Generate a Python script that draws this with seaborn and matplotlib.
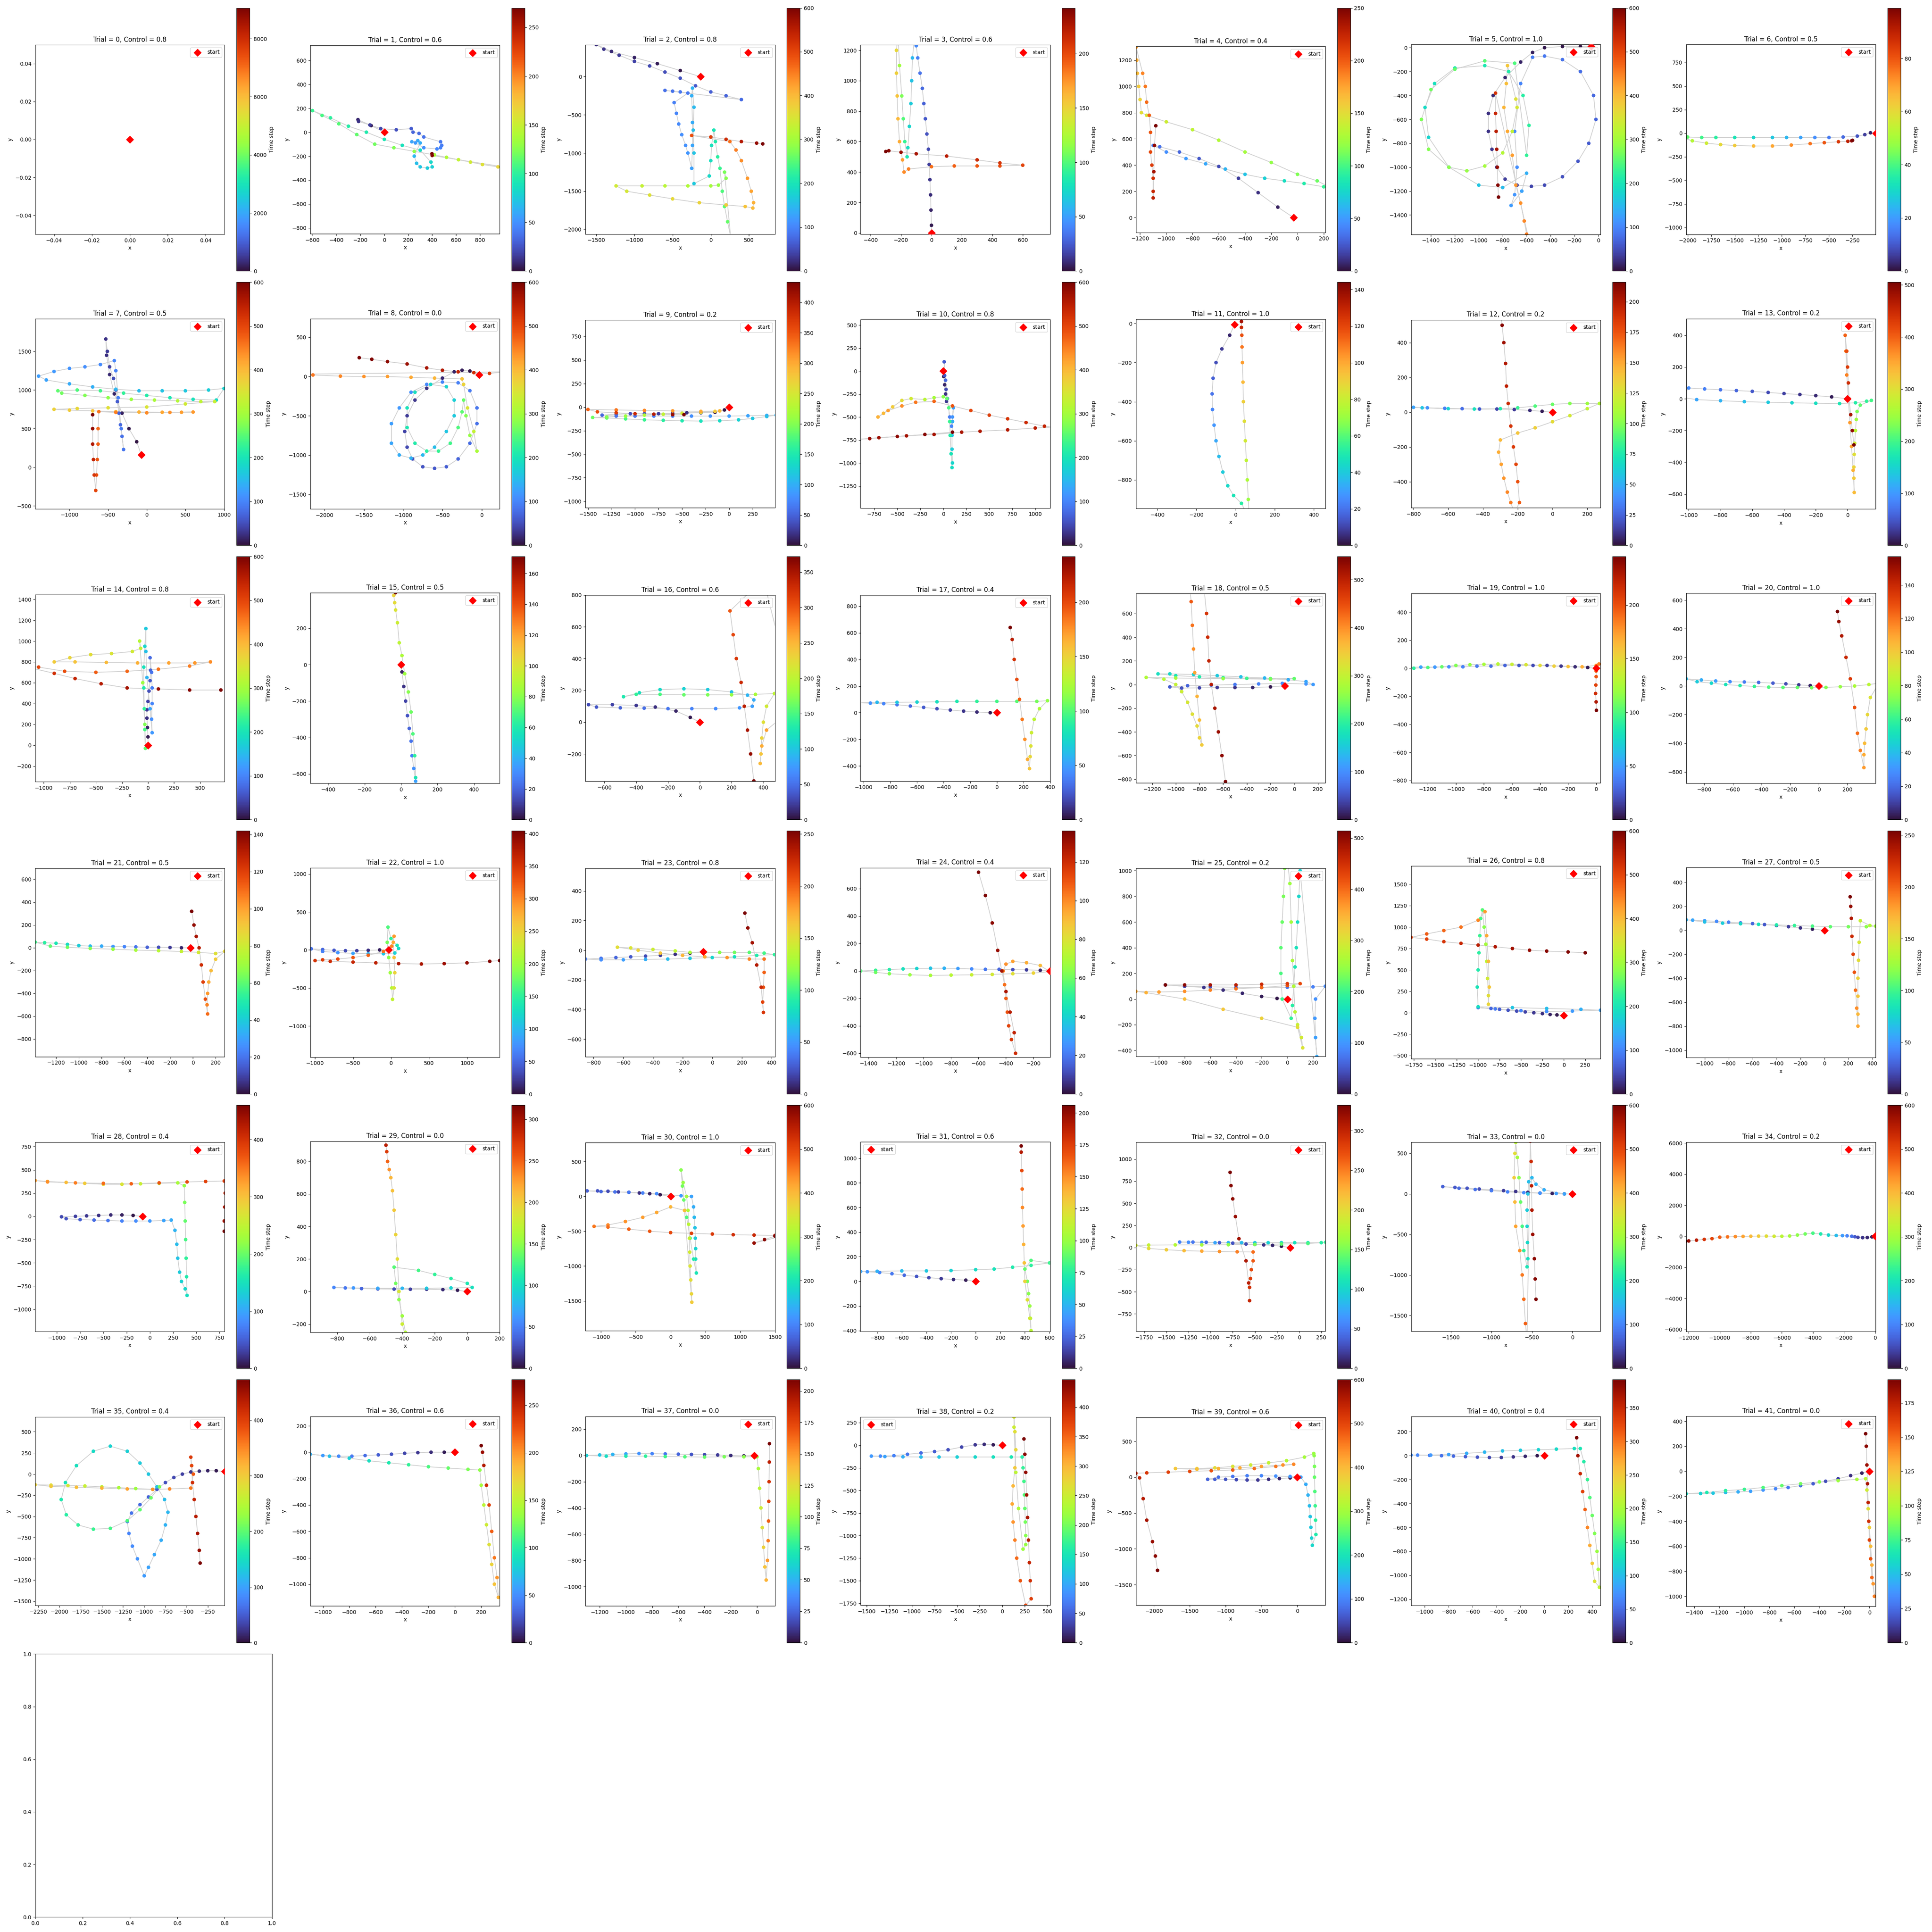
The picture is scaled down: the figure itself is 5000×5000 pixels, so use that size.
import pandas as pd
import matplotlib
matplotlib.use('Agg')
import matplotlib.pyplot as plt
import seaborn as sns
from matplotlib.colors import Normalize
from matplotlib.cm import ScalarMappable

# control level of each trial (read from titles)
controls = [0.8, 0.6, 0.8, 0.6, 0.4, 1.0, 0.5, 0.5, 0.0, 0.2, 0.8, 1.0, 0.2, 0.2,
            0.8, 0.5, 0.6, 0.4, 0.5, 1.0, 1.0, 0.5, 1.0, 0.8, 0.4, 0.2, 0.8, 0.5,
            0.4, 0.0, 1.0, 0.6, 0.0, 0.0, 0.2, 0.4, 0.6, 0.0, 0.2, 0.6, 0.4, 0.0]

# last time step of each trial (top of colorbar)
tmax = [9060, 270, 600, 242, 250, 600, 99, 600, 600, 433, 600, 144, 216, 505,
        600, 171, 372, 242, 548, 245, 157, 142, 404, 253, 136, 514, 600, 254,
        460, 317, 600, 206, 332, 600, 600, 473, 277, 209, 447, 600, 392, 192]

# visible window of each panel
xlims = [(-0.05, 0.05), (-618, 965), (-1640, 840), (-465, 780), (-1232, 212), (-1567, 18),
         (-2015, -5), (-1444, 1008), (-2183, 231), (-1526, 487), (-898, 1162), (-510, 459),
         (-814, 276), (-1016, 177), (-1083, 736), (-498, 542), (-719, 473), (-1023, 400),
         (-1337, 263), (-1320, 31), (-926, 397), (-1383, 279), (-1062, 1432), (-855, 423),
         (-1459, -78), (-1180, 296), (-1783, 428), (-1154, 428), (-1233, 804), (-965, 200),
         (-1223, 1500), (-934, 605), (-1845, 296), (-1992, 346), (-12162, 40), (-2287, -51),
         (-1095, 341), (-1308, 137), (-1568, 530), (-2252, 391), (-1115, 469), (-1465, 50)]
ylims = [(-0.05, 0.05), (-849, 727), (-2060, 415), (-7, 1235), (-113, 1304), (-1562, 26),
         (-1073, 941), (-537, 1921), (-1687, 737), (-1069, 927), (-1489, 558), (-946, 22),
         (-550, 531), (-694, 505), (-350, 1446), (-652, 394), (-372, 800), (-514, 883),
         (-830, 769), (-818, 534), (-679, 649), (-955, 698), (-1410, 1080), (-718, 552),
         (-629, 753), (-448, 1018), (-538, 1712), (-1061, 524), (-1238, 798), (-251, 924),
         (-1932, 772), (-409, 1133), (-946, 1189), (-1695, 636), (-6138, 6069), (-1550, 676),
         (-1165, 272), (-1147, 298), (-1772, 313), (-1783, 835), (-1253, 326), (-1079, 441)]

# trajectories: (x, y, time step)
p0 = [(0, 0, 0), (0, 0, 3000), (0, 0, 6000), (0, 0, 9060)]
p1 = [(0, 0, 0), (-110, 55, 4), (-220, 105, 8), (-215, 90, 12), (-120, 60, 16), (-30, 30, 20),
      (100, 20, 24), (225, 30, 28), (240, 0, 31), (290, -10, 34), (330, -40, 37), (470, -80, 40),
      (480, -110, 42), (470, -130, 44), (440, -140, 46), (330, -130, 50), (260, -90, 54),
      (230, -80, 57), (280, -70, 60), (300, -90, 62), (250, -200, 66), (270, -260, 69),
      (300, -290, 72), (360, -300, 75), (400, -290, 78), (390, -250, 82), (300, -150, 85),
      (150, -110, 88), (0, -60, 91), (-150, 0, 94), (-300, 50, 97), (-450, 120, 100),
      (-600, 180, 104), (-520, 140, 108), (-380, 70, 112), (-230, -20, 116), (-80, -100, 120),
      (80, -130, 124), (250, -160, 128), (420, -190, 135), (520, -210, 140), (620, -230, 147),
      (720, -250, 153), (820, -270, 160), (950, -290, 166), (1100, -310, 190), (1250, -330, 230),
      (400, -195, 265), (398, -180, 270)]
p2 = [(-136, 0, 0), (-400, 80, 5), (-700, 170, 10), (-1000, 250, 15), (-1300, 330, 20),
      (-1500, 420, 25), (-1400, 360, 30), (-1200, 280, 35), (-1000, 200, 40), (-800, 140, 45),
      (-600, 60, 50), (-400, -20, 55), (-200, -120, 60), (0, -200, 65), (200, -250, 70),
      (400, -300, 75), (-600, -180, 80), (-500, -190, 83), (-400, -200, 86), (-300, -215, 89),
      (-480, -340, 95), (-450, -480, 100), (-420, -620, 104), (-380, -760, 108), (-330, -900, 112),
      (-300, -1000, 116), (-250, -1200, 125), (-240, -900, 130), (-240, -600, 135),
      (-250, -250, 140), (-240, -150, 143), (-220, -400, 148), (-230, -700, 153),
      (-220, -1000, 158), (-220, -1400, 165), (-20, -1300, 185), (0, -1100, 190), (10, -900, 195),
      (40, -700, 200), (60, -850, 210), (90, -1050, 220), (120, -1200, 230), (150, -1500, 245),
      (180, -1700, 252), (220, -1900, 258), (260, -2100, 262), (180, -1250, 270),
      (200, -1330, 280), (100, -1420, 290), (0, -1430, 300), (-300, -1430, 310),
      (-600, -1430, 320), (-900, -1430, 330), (-1240, -1430, 340), (-1100, -1500, 345),
      (-800, -1550, 355), (-500, -1600, 365), (-150, -1650, 372), (200, -1680, 380),
      (450, -1700, 390), (550, -1720, 400), (560, -1650, 410), (530, -1500, 420),
      (480, -1330, 430), (400, -1100, 440), (330, -960, 450), (250, -850, 460), (-250, -770, 490),
      (0, -790, 510), (200, -820, 530), (400, -850, 555), (600, -870, 580), (680, -880, 600)]
p3 = [(0, 0, 0), (0, 50, 3), (-3, 150, 6), (-6, 250, 9), (-10, 350, 12), (-15, 450, 15),
      (-20, 550, 18), (-30, 650, 21), (-40, 750, 24), (-50, 850, 27), (-60, 950, 30),
      (-75, 1050, 34), (-90, 1150, 38), (-100, 1230, 42), (-110, 1300, 48), (-125, 1150, 60),
      (-130, 1000, 64), (-135, 850, 68), (-145, 700, 72), (-155, 560, 77), (-160, 500, 82),
      (-175, 600, 92), (-185, 750, 100), (-195, 900, 110), (-210, 1100, 120), (-220, 1300, 135),
      (-230, 1200, 148), (-230, 1050, 152), (-225, 900, 157), (-220, 750, 162), (-210, 600, 167),
      (-190, 480, 172), (-180, 400, 178), (-150, 420, 182), (0, 435, 187), (150, 440, 191),
      (300, 440, 195), (450, 440, 199), (600, 445, 203), (450, 460, 210), (300, 480, 216),
      (100, 505, 222), (-100, 520, 228), (-200, 530, 233), (-280, 540, 238), (-300, 535, 242)]
p4 = [(-30, 0, 0), (-150, 80, 5), (-300, 190, 10), (-450, 300, 15), (-600, 390, 20),
      (-750, 450, 25), (-900, 500, 30), (-1050, 540, 35), (-1100, 550, 40), (-1000, 500, 45),
      (-850, 450, 50), (-700, 410, 55), (-550, 370, 60), (-400, 330, 66), (-250, 300, 72),
      (-100, 280, 80), (50, 260, 88), (200, 235, 95), (260, 225, 102), (150, 280, 110),
      (0, 330, 115), (-200, 420, 120), (-400, 500, 125), (-600, 590, 130), (-800, 670, 135),
      (-1000, 730, 140), (-1150, 780, 146), (-1190, 800, 150), (-1200, 900, 155),
      (-1210, 1000, 160), (-1220, 1100, 166), (-1225, 1200, 172), (-1230, 1300, 178),
      (-1180, 1100, 186), (-1160, 1000, 190), (-1150, 880, 194), (-1130, 780, 198),
      (-1120, 650, 203), (-1120, 500, 208), (-1110, 400, 213), (-1100, 300, 218),
      (-1100, 200, 223), (-1100, 150, 228), (-1095, 350, 236), (-1090, 550, 243), (-1080, 700, 250)]
p5 = [(-60, 10, 0), (-150, 10, 3), (-300, 10, 6), (-450, 0, 9), (-550, -40, 12), (-650, -120, 15),
      (-780, -250, 18), (-880, -400, 21), (-920, -550, 24), (-920, -700, 27), (-890, -850, 30),
      (-850, -1000, 33), (-780, -1100, 36), (-680, -1150, 40), (-560, -1160, 44),
      (-450, -1150, 48), (-300, -1080, 53), (-170, -950, 58), (-80, -800, 63), (-20, -600, 68),
      (-40, -400, 73), (-150, -200, 78), (-300, -100, 83), (-450, -70, 88), (-550, -80, 93),
      (-650, -300, 100), (-700, -700, 105), (-680, -1000, 110), (-700, -1230, 115),
      (-730, -1320, 120), (-640, -1200, 128), (-600, -1050, 140), (-800, -1170, 150),
      (-1000, -1150, 160), (-1250, -1000, 170), (-1420, -750, 180), (-1450, -500, 187),
      (-1370, -300, 194), (-1200, -170, 200), (-950, -150, 206), (-750, -200, 212),
      (-630, -400, 217), (-580, -650, 222), (-600, -900, 227), (-700, -130, 245),
      (-950, -110, 252), (-1200, -180, 260), (-1400, -350, 266), (-1480, -600, 272),
      (-1420, -850, 278), (-1250, -1000, 284), (-1100, -1030, 290), (-950, -990, 300),
      (-800, -880, 315), (-720, -700, 330), (-680, -500, 345), (-690, -430, 355),
      (-760, -150, 385), (-770, -300, 395), (-790, -500, 405), (-760, -700, 415),
      (-720, -900, 425), (-690, -1150, 432), (-650, -1300, 438), (-620, -1450, 445),
      (-600, -1560, 450), (-560, -1700, 460), (-860, -380, 520), (-860, -550, 535),
      (-855, -700, 550), (-850, -850, 565), (-845, -1000, 580), (-840, -1150, 592),
      (-835, -1250, 600)]
p6 = [(0, 0, 0), (-60, 5, 3), (-120, -15, 6), (-200, -30, 9), (-350, -40, 12), (-500, -45, 15),
      (-650, -45, 18), (-800, -45, 21), (-950, -45, 24), (-1100, -45, 27), (-1300, -45, 30),
      (-1500, -45, 33), (-1700, -45, 36), (-1850, -45, 39), (-2000, -40, 42), (-2050, -50, 46),
      (-1950, -80, 52), (-1800, -105, 56), (-1650, -120, 60), (-1500, -130, 63),
      (-1300, -135, 66), (-1100, -135, 69), (-900, -125, 72), (-700, -110, 76), (-550, -100, 80),
      (-400, -90, 85), (-300, -85, 90), (-260, -80, 95), (-250, -75, 99)]
p7 = [(-70, 160, 0), (-130, 330, 4), (-230, 500, 8), (-320, 700, 12), (-420, 950, 16),
      (-480, 1200, 20), (-520, 1450, 24), (-530, 1660, 28), (-510, 1500, 35), (-480, 1300, 42),
      (-430, 1150, 50), (-400, 1000, 56), (-380, 850, 62), (-360, 700, 68), (-340, 550, 74),
      (-320, 400, 80), (-300, 230, 86), (-330, 500, 90), (-370, 900, 94), (-400, 1250, 98),
      (-420, 1380, 102), (-600, 1330, 106), (-800, 1300, 110), (-1000, 1280, 114),
      (-1200, 1240, 118), (-1400, 1180, 122), (-1300, 1130, 128), (-1000, 1080, 134),
      (-700, 1040, 140), (-400, 1010, 146), (-100, 990, 152), (200, 990, 158), (500, 990, 164),
      (800, 1000, 170), (1000, 1020, 176), (900, 870, 185), (600, 880, 195), (300, 900, 205),
      (0, 930, 215), (-300, 960, 225), (-600, 990, 235), (-900, 1000, 245), (-1150, 990, 255),
      (-1100, 960, 265), (-800, 930, 275), (-500, 900, 285), (-200, 880, 295), (100, 870, 305),
      (400, 860, 315), (700, 850, 325), (880, 850, 335), (500, 820, 342), (0, 780, 350),
      (-500, 770, 358), (-900, 760, 366), (-1200, 750, 374), (-1000, 740, 382), (-700, 730, 392),
      (-400, 720, 402), (-100, 715, 410), (200, 712, 418), (450, 712, 425), (600, 715, 430),
      (300, 710, 436), (0, 705, 442), (-400, 710, 450), (-620, 720, 458), (-630, 500, 468),
      (-630, 300, 476), (-640, 100, 484), (-650, -100, 492), (-660, -300, 500),
      (-680, -100, 520), (-690, 100, 540), (-700, 300, 560), (-700, 500, 580), (-700, 680, 600)]
p8 = [(-30, 20, 0), (-150, 70, 5), (-250, 80, 10), (-350, 60, 15), (-500, -20, 20),
      (-700, -150, 25), (-850, -300, 30), (-950, -500, 35), (-980, -700, 40), (-950, -900, 45),
      (-880, -1050, 50), (-750, -1150, 55), (-600, -1170, 60), (-450, -1150, 65),
      (-300, -1050, 70), (-150, -850, 75), (-60, -600, 80), (-60, -400, 85), (-150, -180, 90),
      (-300, -80, 95), (-500, -70, 100), (-700, -100, 105), (-900, -200, 112), (-1050, -400, 118),
      (-1150, -600, 124), (-1150, -850, 130), (-1050, -1000, 136), (-900, -1040, 142),
      (-750, -1000, 148), (-600, -900, 154), (-450, -700, 160), (-350, -500, 166),
      (-350, -300, 172), (-450, -130, 178), (-650, -100, 185), (-850, -200, 192),
      (-950, -400, 198), (-950, -650, 204), (-850, -850, 212), (-700, -950, 220),
      (-550, -950, 228), (-400, -850, 236), (-300, -650, 244), (-250, -450, 252),
      (-230, -300, 260), (-200, -500, 275), (-150, -750, 290), (-60, -950, 305),
      (-100, -700, 330), (-180, -400, 350), (-230, -100, 372), (-250, -30, 390),
      (-600, -20, 405), (-900, -10, 415), (-1200, 0, 425), (-1500, 0, 435), (-1800, 5, 445),
      (-2150, 20, 458), (-2300, 30, 470), (300, 60, 500), (100, 40, 510), (-100, 50, 525),
      (-300, 60, 540), (-500, 80, 555), (-700, 110, 565), (-950, 160, 575), (-1200, 190, 585),
      (-1400, 220, 593), (-1560, 240, 600)]
p9 = [(0, 0, 0), (-50, -30, 4), (-150, -55, 8), (-300, -60, 13), (-450, -60, 18), (-600, -65, 23),
      (-750, -70, 28), (-900, -70, 33), (-1050, -70, 38), (-1200, -75, 45), (-1350, -85, 52),
      (-1200, -95, 58), (-1000, -95, 63), (-800, -95, 68), (-600, -95, 73), (-400, -95, 78),
      (-200, -95, 83), (0, -95, 88), (200, -92, 93), (400, -88, 98), (500, -85, 103),
      (400, -100, 110), (250, -120, 118), (100, -135, 126), (-100, -145, 134), (-300, -148, 142),
      (-500, -145, 150), (-700, -140, 158), (-900, -135, 166), (-1100, -125, 174),
      (-1300, -115, 182), (-1450, -110, 190), (-1300, -105, 200), (-1100, -95, 212),
      (-900, -85, 224), (-700, -75, 236), (-500, -65, 248), (-300, -55, 262), (-150, -45, 276),
      (-100, -40, 290), (-300, -45, 300), (-600, -40, 310), (-900, -35, 320), (-1200, -30, 330),
      (-1500, -25, 340), (-1400, -50, 355), (-1200, -60, 370), (-1000, -70, 385),
      (-800, -75, 400), (-600, -80, 415), (-480, -80, 433)]
p10 = [(0, 0, 0), (5, -60, 8), (15, -150, 16), (25, -250, 24), (35, -330, 32), (30, -200, 45),
       (15, -50, 55), (10, 100, 62), (25, -100, 72), (45, -300, 82), (70, -500, 92),
       (90, -600, 102), (100, -500, 115), (110, -400, 125), (100, -550, 140), (95, -700, 155),
       (95, -850, 170), (100, -1000, 180), (95, -1050, 188), (85, -900, 200), (75, -700, 215),
       (70, -550, 230), (60, -400, 245), (40, -300, 260), (0, -280, 280), (-100, -290, 300),
       (-200, -310, 320), (-350, -300, 340), (-450, -320, 360), (-550, -390, 380),
       (-650, -460, 400), (-710, -500, 410), (-600, -430, 425), (-450, -380, 440),
       (-300, -340, 455), (-100, -330, 470), (100, -380, 485), (300, -430, 500), (500, -480, 510),
       (700, -520, 520), (900, -560, 530), (1100, -600, 540), (1200, -610, 545),
       (1000, -620, 550), (700, -640, 555), (400, -655, 560), (200, -665, 563),
       (-100, -690, 566), (-400, -705, 569), (-700, -725, 572), (-950, -745, 575),
       (-800, -735, 580), (-500, -712, 585), (-200, -690, 590), (100, -665, 600)]
p11 = [(-5, -5, 0), (-30, -60, 4), (-70, -130, 8), (-100, -200, 12), (-115, -280, 16),
       (-120, -360, 20), (-118, -440, 24), (-110, -520, 28), (-100, -600, 32), (-85, -680, 36),
       (-65, -760, 40), (-40, -830, 44), (-10, -880, 48), (30, -920, 52), (50, -960, 56),
       (70, -1000, 62), (65, -900, 70), (60, -800, 74), (55, -700, 78), (50, -600, 82),
       (45, -500, 86), (40, -400, 90), (38, -300, 96), (35, -200, 102), (33, -120, 110),
       (32, -60, 118), (30, -20, 128), (30, 10, 136), (30, 30, 144)]
p12 = [(0, 0, 0), (-60, 5, 4), (-130, 10, 8), (-220, 15, 12), (-320, 18, 16), (-420, 18, 22),
       (-520, 20, 28), (-620, 22, 34), (-720, 25, 40), (-800, 28, 46), (-850, 30, 52),
       (-750, 25, 58), (-600, 20, 64), (-450, 18, 70), (-300, 20, 76), (-200, 25, 82),
       (-100, 35, 88), (0, 45, 94), (100, 50, 100), (200, 50, 106), (270, 50, 112),
       (200, 20, 118), (100, -20, 124), (0, -55, 130), (-100, -90, 135), (-200, -120, 140),
       (-300, -160, 144), (-310, -230, 148), (-295, -300, 152), (-280, -380, 156),
       (-260, -460, 160), (-240, -520, 164), (-220, -580, 168), (-190, -520, 172),
       (-200, -400, 176), (-210, -300, 180), (-225, -200, 184), (-240, -80, 188),
       (-255, 50, 192), (-265, 150, 196), (-270, 280, 200), (-280, 400, 206), (-290, 500, 212),
       (-295, 540, 216)]
p13 = [(0, 0, 0), (-100, 12, 8), (-200, 20, 16), (-300, 27, 24), (-400, 33, 32), (-500, 40, 40),
       (-600, 47, 50), (-700, 52, 60), (-800, 57, 70), (-900, 62, 80), (-1000, 68, 90),
       (-1050, 10, 100), (-950, -5, 110), (-800, -12, 120), (-650, -18, 130), (-500, -22, 140),
       (-350, -25, 150), (-200, -28, 160), (-50, -30, 170), (50, -25, 180), (120, -15, 190),
       (150, -10, 200), (80, -40, 215), (60, -80, 230), (55, -130, 250), (50, -200, 270),
       (45, -280, 285), (42, -350, 300), (40, -430, 312), (40, -500, 322), (42, -590, 335),
       (35, -450, 345), (25, -300, 352), (15, -150, 360), (5, 0, 368), (-5, 150, 378),
       (-10, 300, 390), (-15, 400, 400), (-5, 300, 415), (0, 200, 430), (5, 100, 445),
       (10, 0, 460), (20, -100, 475), (30, -200, 490), (40, -290, 505)]
p14 = [(0, 0, 0), (0, 80, 8), (-5, 170, 16), (-10, 260, 24), (-10, 340, 32), (0, 420, 40),
       (10, 520, 50), (20, 620, 60), (25, 720, 68), (20, 840, 76), (35, 700, 84), (40, 550, 92),
       (40, 400, 100), (35, 250, 110), (40, 120, 118), (20, 350, 130), (-10, 650, 145),
       (-20, 900, 155), (-20, 1120, 165), (-30, 950, 180), (-40, 750, 195), (-40, 550, 210),
       (-35, 350, 225), (-30, 150, 240), (-25, -30, 255), (-30, 200, 275), (-50, 600, 295),
       (-80, 1000, 315), (-70, 930, 330), (-150, 900, 340), (-350, 880, 350), (-550, 870, 360),
       (-750, 840, 370), (-900, 800, 380), (-700, 800, 390), (-400, 795, 400), (-100, 790, 410),
       (200, 790, 420), (450, 790, 430), (600, 800, 440), (400, 760, 450), (100, 730, 460),
       (-200, 710, 470), (-500, 700, 480), (-800, 710, 490), (-1050, 750, 500),
       (-1200, 760, 510), (-900, 690, 525), (-700, 640, 540), (-450, 590, 555), (-200, 550, 568),
       (100, 540, 580), (400, 530, 590), (700, 530, 600)]
p15 = [(0, 0, 0), (5, -40, 4), (15, -120, 8), (25, -200, 12), (35, -280, 16), (45, -350, 20),
       (55, -420, 24), (60, -500, 28), (70, -570, 32), (80, -640, 36), (85, -700, 45),
       (80, -620, 58), (75, -500, 64), (65, -380, 70), (55, -260, 75), (40, -150, 80),
       (20, -50, 84), (5, 50, 88), (-10, 120, 92), (-20, 230, 96), (-30, 300, 100),
       (-35, 340, 103), (-40, 380, 106), (-45, 450, 120), (-40, 500, 150), (-30, 395, 171)]
p16 = [(0, 0, 0), (-60, 30, 5), (-150, 70, 10), (-280, 95, 15), (-400, 105, 20), (-550, 110, 25),
       (-700, 110, 30), (-650, 95, 36), (-500, 90, 42), (-350, 88, 48), (-200, 85, 54),
       (-50, 85, 60), (100, 85, 66), (250, 90, 72), (330, 100, 78), (340, 140, 84),
       (300, 170, 90), (200, 190, 96), (50, 205, 102), (-100, 210, 108), (-250, 205, 114),
       (-380, 185, 120), (-480, 160, 128), (-400, 175, 140), (-250, 175, 150), (-100, 172, 160),
       (50, 172, 170), (200, 172, 180), (350, 175, 190), (470, 180, 200), (420, 100, 212),
       (400, 0, 222), (390, -100, 230), (385, -200, 240), (380, -260, 248), (390, -150, 256),
       (420, -50, 262), (600, 100, 270), (400, 900, 285), (190, 700, 300), (210, 550, 310),
       (230, 400, 320), (260, 250, 330), (280, 100, 340), (300, -50, 350), (320, -200, 360),
       (340, -370, 372)]
p17 = [(0, 0, 0), (-50, 0, 4), (-150, 5, 8), (-250, 12, 12), (-350, 20, 16), (-450, 30, 20),
       (-550, 40, 25), (-650, 50, 30), (-750, 60, 35), (-850, 68, 40), (-950, 72, 45),
       (-1050, 75, 50), (-900, 78, 60), (-750, 78, 66), (-600, 80, 72), (-450, 82, 78),
       (-300, 85, 84), (-150, 85, 90), (0, 85, 96), (150, 85, 102), (300, 85, 108),
       (380, 90, 116), (320, 30, 124), (280, -50, 130), (260, -150, 136), (255, -250, 142),
       (250, -330, 148), (245, -420, 156), (230, -350, 166), (210, -200, 176), (190, -50, 184),
       (170, 100, 192), (150, 250, 200), (130, 400, 210), (115, 550, 222), (100, 640, 242)]
p18 = [(-80, -10, 0), (-200, -20, 8), (-350, -25, 16), (-500, -25, 24), (-650, -25, 32),
       (-800, -28, 40), (-950, -30, 48), (-1050, -20, 56), (-900, -10, 64), (-700, -5, 72),
       (-500, 0, 80), (-300, 5, 88), (-100, 10, 96), (100, 5, 104), (160, 0, 110),
       (100, 25, 118), (-50, 40, 126), (-250, 55, 134), (-450, 65, 142), (-650, 75, 150),
       (-850, 85, 158), (-1050, 90, 166), (-1150, 90, 174), (-1000, 75, 184), (-800, 65, 194),
       (-600, 58, 204), (-400, 52, 214), (-200, 50, 224), (0, 50, 234), (-200, 45, 250),
       (-600, 50, 262), (-1000, 55, 274), (-1250, 60, 284), (-1100, 45, 292), (-1000, 0, 300),
       (-950, -60, 308), (-900, -150, 316), (-860, -250, 324), (-820, -350, 332),
       (-800, -450, 340), (-780, -510, 348), (-800, -300, 360), (-820, -100, 372),
       (-840, 100, 385), (-850, 300, 400), (-860, 500, 420), (-870, 700, 440), (-880, 800, 450),
       (-760, 800, 465), (-740, 600, 475), (-730, 400, 485), (-720, 200, 495), (-700, 0, 505),
       (-670, -200, 515), (-640, -400, 525), (-610, -600, 535), (-580, -820, 548)]
p19 = [(0, 0, 0), (-60, 5, 4), (-150, 10, 8), (-250, 15, 12), (-350, 20, 16), (-450, 20, 20),
       (-550, 20, 24), (-650, 20, 28), (-750, 15, 32), (-850, 15, 36), (-950, 10, 40),
       (-1050, 10, 44), (-1150, 8, 48), (-1250, 8, 52), (-1350, 8, 58), (-1400, 5, 70),
       (-1300, 0, 90), (-1200, 5, 100), (-1100, 10, 106), (-1000, 20, 112), (-900, 25, 118),
       (-800, 28, 124), (-700, 30, 130), (-600, 28, 136), (-500, 25, 142), (-400, 20, 148),
       (-300, 15, 154), (-200, 12, 160), (-100, 10, 168), (0, 20, 176), (20, 30, 184),
       (0, -20, 192), (0, -60, 198), (-2, -120, 206), (-4, -180, 216), (0, -240, 228),
       (2, -300, 245)]
p20 = [(0, 0, 0), (-60, 3, 4), (-140, 8, 8), (-230, 15, 12), (-320, 20, 16), (-420, 25, 20),
       (-520, 28, 24), (-620, 30, 28), (-720, 35, 32), (-820, 42, 36), (-926, 50, 40),
       (-850, 30, 44), (-750, 20, 48), (-650, 10, 52), (-550, 3, 56), (-450, -3, 60),
       (-350, -8, 64), (-250, -10, 66), (-150, -10, 68), (-50, -12, 70), (50, -10, 72),
       (150, -5, 76), (250, 0, 80), (350, 10, 84), (420, 20, 88), (360, -80, 92),
       (340, -200, 96), (330, -300, 100), (320, -400, 104), (315, -480, 108), (315, -570, 112),
       (290, -450, 118), (270, -330, 122), (250, -150, 128), (220, 50, 134), (190, 200, 140),
       (160, 350, 146), (140, 450, 152), (130, 520, 157)]
p21 = [(-20, 0, 0), (-100, 0, 4), (-200, 3, 8), (-300, 5, 12), (-400, 5, 16), (-500, 8, 20),
       (-600, 10, 24), (-700, 12, 28), (-800, 15, 32), (-900, 15, 36), (-1000, 20, 40),
       (-1100, 30, 44), (-1200, 40, 48), (-1300, 45, 52), (-1383, 50, 56), (-1250, 15, 60),
       (-1100, 5, 63), (-900, -5, 66), (-700, -12, 69), (-500, -20, 72), (-300, -25, 75),
       (-100, -32, 78), (50, -40, 81), (200, -50, 84), (280, -30, 87), (200, -100, 90),
       (160, -200, 94), (140, -300, 98), (130, -400, 102), (125, -500, 106), (130, -580, 110),
       (110, -450, 116), (90, -300, 120), (75, -150, 125), (55, 0, 130), (30, 100, 134),
       (10, 200, 138), (-10, 320, 142)]
p22 = [(-30, 0, 0), (-150, 0, 8), (-300, -5, 16), (-450, -10, 24), (-600, -10, 32),
       (-750, -5, 40), (-900, 5, 48), (-1050, 15, 56), (-900, -20, 66), (-700, -35, 76),
       (-500, -45, 86), (-300, -50, 96), (-100, -50, 106), (50, -40, 116), (100, 20, 126),
       (80, 60, 136), (0, 150, 150), (-40, 300, 165), (-50, 100, 180), (-30, -100, 190),
       (-10, -300, 200), (10, -500, 210), (20, -650, 220), (40, -500, 235), (50, -300, 250),
       (40, -100, 265), (30, 100, 280), (40, 180, 290), (10, 50, 300), (-100, -20, 310),
       (-300, -70, 318), (-500, -100, 326), (-700, -120, 334), (-900, -130, 342),
       (-1000, -140, 350), (-800, -150, 356), (-500, -160, 362), (-200, -170, 368),
       (100, -180, 374), (400, -185, 380), (700, -180, 386), (1000, -170, 392),
       (1300, -150, 398), (1430, -140, 404)]
p23 = [(-60, -10, 0), (-150, -20, 5), (-250, -28, 10), (-350, -35, 15), (-450, -40, 20),
       (-550, -45, 25), (-650, -50, 30), (-750, -55, 35), (-855, -60, 40), (-750, -65, 46),
       (-600, -65, 52), (-450, -62, 58), (-300, -60, 64), (-150, -55, 70), (0, -50, 76),
       (150, -45, 82), (300, -35, 88), (420, -30, 94), (350, -20, 100), (250, -15, 106),
       (150, -15, 112), (50, -15, 118), (-50, -15, 124), (-150, -15, 130), (-250, -5, 136),
       (-400, 5, 142), (-550, 15, 148), (-640, 20, 152), (-500, 0, 158), (-350, -20, 164),
       (-200, -35, 170), (-50, -45, 176), (100, -50, 182), (250, -60, 188), (350, -60, 194),
       (350, -150, 200), (345, -250, 206), (340, -350, 212), (345, -420, 218), (330, -250, 226),
       (300, -100, 234), (270, 50, 240), (240, 150, 246), (220, 250, 253)]
p24 = [(-80, 0, 0), (-150, 5, 4), (-250, 8, 8), (-350, 10, 12), (-450, 12, 16), (-550, 12, 20),
       (-650, 15, 24), (-750, 18, 28), (-850, 20, 32), (-950, 20, 36), (-1050, 18, 40),
       (-1150, 15, 44), (-1250, 10, 48), (-1350, 5, 52), (-1459, 0, 56), (-1350, -10, 60),
       (-1250, -20, 63), (-1100, -28, 66), (-950, -32, 69), (-800, -30, 72), (-650, -28, 75),
       (-500, -25, 78), (-350, -20, 81), (-200, -15, 84), (-80, -5, 87), (-150, 40, 90),
       (-250, 60, 93), (-350, 70, 96), (-400, 50, 99), (-420, 0, 102), (-410, -100, 105),
       (-400, -200, 108), (-390, -300, 111), (-380, -400, 114), (-360, -500, 117),
       (-330, -600, 120), (-340, -450, 123), (-370, -300, 125), (-400, -150, 127),
       (-430, 0, 129), (-460, 150, 131), (-500, 350, 133), (-550, 550, 135), (-600, 720, 136)]
p25 = [(0, 0, 0), (-80, 5, 5), (-200, 20, 10), (-350, 45, 15), (-500, 70, 20), (-650, 90, 25),
       (-800, 100, 30), (-950, 110, 35), (-800, 100, 42), (-600, 95, 50), (-400, 92, 58),
       (-200, 90, 66), (0, 92, 74), (200, 95, 82), (296, 100, 90), (220, 0, 96),
       (215, -150, 102), (220, -300, 108), (230, -448, 114), (240, -550, 118), (100, 1000, 150),
       (90, 800, 156), (80, 600, 162), (70, 400, 168), (60, 250, 174), (50, 100, 180),
       (40, -50, 186), (30, -150, 192), (-40, 0, 200), (-50, 200, 208), (-50, 400, 216),
       (-40, 600, 224), (-30, 800, 232), (-20, 1018, 240), (0, 1100, 246), (20, 900, 252),
       (30, 600, 258), (40, 300, 264), (50, 100, 270), (60, -100, 276), (80, -200, 284),
       (110, -300, 292), (120, -380, 300), (80, -220, 310), (-200, -150, 320), (-500, -80, 330),
       (-800, 0, 340), (-1100, 50, 350), (-1180, 60, 356), (-1000, 55, 365), (-800, 60, 375),
       (-600, 70, 385), (-400, 80, 395), (-200, 90, 405), (0, 105, 415), (100, 120, 425),
       (0, 120, 440), (-200, 115, 455), (-400, 110, 470), (-600, 110, 485), (-800, 110, 500),
       (-950, 110, 514)]
p26 = [(0, -30, 0), (-80, -25, 8), (-160, -20, 16), (-250, -10, 24), (-350, 0, 32),
       (-450, 10, 40), (-550, 20, 48), (-650, 30, 56), (-750, 40, 64), (-850, 50, 72),
       (-1000, 60, 80), (-800, 45, 90), (-500, 25, 100), (-200, 15, 110), (100, 20, 120),
       (428, 30, 130), (200, 40, 140), (-200, 50, 150), (-600, 60, 160), (-1000, 70, 190),
       (-1010, 300, 200), (-1000, 500, 210), (-990, 700, 220), (-980, 900, 230),
       (-970, 1100, 240), (-950, 1200, 250), (-930, 1000, 280), (-910, 800, 300),
       (-900, 600, 320), (-890, 400, 340), (-880, 200, 360), (-880, 100, 370), (-870, 300, 385),
       (-880, 600, 400), (-900, 900, 415), (-920, 1180, 430), (-1000, 1080, 445),
       (-1200, 1000, 460), (-1400, 960, 470), (-1600, 920, 480), (-1783, 880, 490),
       (-1600, 860, 505), (-1400, 830, 520), (-1200, 810, 535), (-1000, 790, 550),
       (-800, 770, 560), (-600, 750, 570), (-400, 730, 580), (-200, 720, 590), (50, 710, 595),
       (250, 700, 600)]
p27 = [(0, 0, 0), (-100, 10, 5), (-200, 20, 10), (-300, 30, 15), (-400, 40, 20), (-500, 48, 25),
       (-600, 56, 30), (-700, 62, 35), (-800, 68, 40), (-900, 75, 45), (-1000, 80, 50),
       (-1100, 85, 55), (-1154, 88, 60), (-1000, 70, 66), (-850, 60, 72), (-700, 55, 78),
       (-550, 50, 84), (-400, 45, 90), (-250, 40, 96), (-100, 35, 102), (50, 30, 108),
       (200, 30, 114), (350, 30, 120), (428, 35, 126), (380, 40, 132), (300, 80, 140),
       (290, -100, 146), (285, -250, 152), (280, -400, 158), (280, -550, 164), (280, -700, 170),
       (280, -800, 176), (270, -650, 186), (260, -500, 196), (250, -350, 206), (240, -200, 216),
       (230, -50, 226), (225, 100, 236), (220, 200, 246), (215, 280, 254)]
p28 = [(-80, 0, 0), (-180, 10, 5), (-300, 15, 10), (-420, 15, 15), (-550, 10, 20), (-680, 5, 25),
       (-800, 0, 30), (-950, -5, 35), (-900, -25, 42), (-750, -35, 50), (-600, -40, 58),
       (-450, -45, 66), (-300, -50, 74), (-150, -50, 82), (0, -50, 90), (150, -45, 98),
       (230, -40, 104), (270, -150, 110), (290, -300, 116), (300, -450, 122), (320, -600, 128),
       (340, -700, 134), (380, -780, 140), (400, -850, 146), (395, -650, 160), (390, -450, 172),
       (385, -250, 184), (380, -50, 196), (375, 150, 208), (370, 330, 220), (300, 360, 232),
       (100, 355, 244), (-100, 350, 256), (-300, 345, 268), (-500, 345, 280), (-700, 355, 292),
       (-900, 365, 304), (-1100, 375, 316), (-1233, 385, 326), (-1100, 370, 336),
       (-800, 360, 346), (-500, 355, 356), (-200, 350, 364), (100, 360, 372), (400, 370, 380),
       (600, 375, 386), (800, 380, 392), (810, 250, 410), (805, 100, 425), (800, -50, 440),
       (800, -160, 460)]
p29 = [(0, 0, 0), (-60, 8, 5), (-150, 12, 10), (-250, 14, 15), (-350, 14, 20), (-450, 15, 25),
       (-550, 16, 30), (-650, 18, 38), (-750, 22, 46), (-820, 25, 54), (-700, 22, 62),
       (-550, 20, 70), (-400, 20, 78), (-250, 20, 86), (-100, 22, 94), (30, 25, 102),
       (0, 50, 108), (-100, 80, 114), (-200, 105, 120), (-300, 130, 126), (-450, 150, 132),
       (-440, 50, 140), (-420, -50, 148), (-400, -150, 156), (-380, -251, 164), (-360, -350, 170),
       (-400, -200, 178), (-420, 0, 184), (-430, 200, 190), (-440, 350, 196), (-450, 500, 202),
       (-460, 620, 208), (-470, 700, 214), (-480, 750, 230), (-490, 800, 250), (-495, 860, 270),
       (-500, 900, 290), (-505, 960, 317)]
p30 = [(0, 0, 0), (-150, 25, 8), (-300, 40, 16), (-450, 50, 24), (-600, 60, 32), (-750, 65, 40),
       (-900, 75, 48), (-1050, 80, 56), (-1200, 80, 64), (-1000, 70, 72), (-800, 65, 80),
       (-600, 60, 88), (-400, 50, 96), (-200, 40, 104), (0, 20, 112), (150, 10, 120),
       (300, 0, 128), (330, -150, 138), (340, -300, 148), (350, -450, 158), (355, -600, 168),
       (360, -750, 178), (360, -900, 188), (370, -1100, 200), (330, -900, 215), (280, -600, 230),
       (230, -300, 245), (190, -50, 258), (170, 150, 268), (150, 380, 280), (180, 200, 290),
       (230, 0, 300), (250, -200, 310), (260, -400, 320), (270, -600, 330), (275, -800, 340),
       (280, -1000, 350), (290, -1200, 360), (300, -1400, 370), (305, -1520, 380),
       (200, -200, 395), (0, -150, 405), (-200, -230, 415), (-400, -300, 425), (-650, -360, 435),
       (-900, -410, 445), (-1100, -430, 455), (-900, -440, 465), (-600, -470, 475),
       (-300, -500, 485), (0, -520, 495), (300, -530, 505), (600, -540, 515), (900, -550, 525),
       (1200, -555, 535), (1500, -560, 545), (1600, -570, 560), (1200, -670, 580),
       (1350, -620, 590), (1500, -570, 600)]
p31 = [(0, 0, 0), (-80, 10, 4), (-180, 15, 8), (-280, 22, 12), (-380, 30, 16), (-480, 40, 20),
       (-580, 50, 25), (-680, 62, 30), (-780, 72, 35), (-880, 78, 40), (-934, 80, 44),
       (-800, 82, 48), (-600, 85, 52), (-400, 85, 56), (-200, 88, 60), (0, 95, 64),
       (150, 100, 68), (300, 115, 72), (450, 130, 76), (600, 150, 80), (450, 170, 84),
       (400, 100, 88), (420, 0, 92), (430, -100, 96), (440, -200, 100), (445, -300, 104),
       (450, -400, 110), (440, -300, 116), (420, -150, 122), (400, 0, 128), (395, 150, 134),
       (390, 300, 140), (385, 450, 146), (380, 600, 152), (378, 750, 160), (375, 900, 170),
       (370, 1050, 190), (370, 1100, 206)]
p32 = [(-100, 0, 0), (-200, 15, 5), (-300, 25, 10), (-400, 30, 15), (-500, 35, 20),
       (-600, 40, 25), (-750, 50, 30), (-900, 55, 36), (-1050, 60, 42), (-1200, 62, 48),
       (-1350, 62, 54), (-1250, 60, 60), (-1100, 58, 66), (-950, 55, 72), (-800, 55, 78),
       (-650, 55, 84), (-500, 55, 90), (-350, 55, 96), (-200, 55, 102), (-50, 55, 108),
       (100, 55, 114), (250, 55, 120), (300, 60, 126), (100, 45, 134), (-200, 40, 142),
       (-500, 35, 150), (-800, 32, 158), (-1100, 30, 166), (-1400, 30, 174), (-1700, 28, 182),
       (-1845, 25, 190), (-1700, -10, 200), (-1500, -25, 210), (-1300, -35, 220),
       (-1100, -40, 230), (-900, -45, 240), (-700, -48, 250), (-520, -50, 258),
       (-520, -150, 266), (-540, -250, 274), (-550, -350, 282), (-560, -450, 290),
       (-560, -600, 298), (-570, -400, 304), (-600, -150, 310), (-680, 100, 316),
       (-720, 350, 320), (-750, 550, 324), (-770, 700, 328), (-780, 850, 332)]
p33 = [(0, 0, 0), (-100, 0, 6), (-250, 5, 12), (-400, 10, 18), (-550, 20, 24), (-700, 30, 30),
       (-850, 40, 36), (-1000, 50, 42), (-1150, 60, 48), (-1300, 70, 54), (-1450, 80, 60),
       (-1600, 90, 66), (-1400, 70, 74), (-1200, 55, 82), (-1000, 40, 90), (-800, 25, 98),
       (-600, 15, 106), (-400, 10, 114), (-200, 5, 122), (-100, 0, 128), (-350, 50, 136),
       (-450, 120, 142), (-500, 200, 148), (-540, 150, 154), (-550, 0, 160), (-560, -200, 168),
       (-560, -400, 176), (-555, -600, 184), (-550, -800, 192), (-560, -900, 200),
       (-600, -700, 220), (-620, -400, 240), (-640, -100, 260), (-660, 200, 280),
       (-680, 450, 300), (-700, 636, 320), (-710, 500, 360), (-720, 200, 380), (-710, -100, 400),
       (-700, -400, 420), (-650, -700, 440), (-620, -1000, 455), (-600, -1300, 465),
       (-580, -1600, 475), (-560, -1800, 485), (-520, 650, 520), (-510, 400, 530),
       (-505, 100, 545), (-500, -200, 560), (-490, -500, 575), (-470, -800, 585),
       (-460, -1050, 592), (-450, -1300, 600)]
p34 = [(0, 0, 0), (-200, -40, 10), (-500, -80, 20), (-800, -90, 30), (-1100, -70, 40),
       (-1300, -30, 60), (-1500, 0, 80), (-1800, 30, 100), (-2100, 40, 120), (-2500, 50, 150),
       (-3000, 80, 180), (-3500, 150, 210), (-4000, 200, 240), (-4500, 150, 265),
       (-5000, 80, 285), (-5500, 20, 300), (-6000, 0, 320), (-6500, 0, 340), (-7000, 10, 360),
       (-7500, 10, 380), (-8000, 0, 400), (-8500, -10, 420), (-9000, -20, 440),
       (-9500, -40, 460), (-10000, -60, 480), (-10500, -150, 500), (-11000, -200, 520),
       (-11500, -250, 550), (-12000, -300, 580), (-12200, -330, 600)]
p35 = [(-50, 30, 0), (-150, 40, 6), (-250, 40, 12), (-350, 35, 18), (-450, 25, 24),
       (-550, 0, 30), (-650, -40, 36), (-750, -100, 42), (-850, -180, 48), (-950, -270, 54),
       (-1050, -360, 60), (-1150, -460, 66), (-1200, -560, 72), (-1180, -700, 78),
       (-1140, -850, 84), (-1080, -1000, 90), (-1000, -1200, 96), (-950, -1100, 100),
       (-880, -950, 104), (-800, -780, 108), (-750, -600, 112), (-720, -450, 116),
       (-760, -300, 120), (-850, -150, 124), (-950, 0, 128), (-1050, 130, 132),
       (-1200, 270, 136), (-1400, 330, 140), (-1600, 270, 146), (-1800, 100, 152),
       (-1930, -100, 158), (-1980, -300, 164), (-1920, -480, 170), (-1780, -600, 176),
       (-1600, -650, 182), (-1400, -640, 188), (-1200, -550, 194), (-1050, -420, 200),
       (-920, -280, 206), (-820, -150, 212), (-900, -180, 222), (-1100, -170, 232),
       (-1300, -160, 242), (-1500, -150, 252), (-1700, -140, 262), (-1900, -135, 272),
       (-2100, -130, 282), (-2287, -125, 292), (-2100, -145, 302), (-1800, -155, 312),
       (-1500, -165, 322), (-1200, -175, 332), (-900, -180, 342), (-700, -175, 350),
       (-450, -165, 360), (-420, 0, 380), (-440, 100, 395), (-450, 200, 405), (-430, -100, 415),
       (-410, -300, 425), (-390, -500, 435), (-370, -700, 445), (-350, -900, 455),
       (-340, -1050, 473)]
p36 = [(0, 0, 0), (-80, 0, 5), (-180, 0, 10), (-280, -3, 15), (-380, -8, 20), (-480, -15, 25),
       (-580, -20, 30), (-680, -25, 36), (-780, -30, 42), (-880, -30, 48), (-1000, -25, 56),
       (-1095, -15, 64), (-950, -30, 72), (-800, -45, 80), (-650, -65, 88), (-500, -80, 96),
       (-350, -95, 104), (-200, -110, 112), (-50, -120, 120), (100, -130, 126),
       (190, -135, 132), (200, -250, 140), (220, -400, 148), (240, -550, 156), (260, -700, 164),
       (280, -850, 172), (300, -1000, 180), (330, -1100, 188), (320, -950, 200),
       (300, -800, 210), (280, -600, 220), (260, -400, 232), (240, -250, 244), (220, -100, 256),
       (210, 0, 266), (200, 50, 277)]
p37 = [(-20, 0, 0), (-100, -3, 4), (-200, 0, 8), (-300, 4, 12), (-400, 6, 16), (-500, 8, 20),
       (-600, 10, 25), (-700, 12, 30), (-800, 14, 35), (-900, 15, 40), (-1000, 12, 45),
       (-1100, 8, 50), (-1200, 4, 55), (-1300, 0, 60), (-1150, -5, 66), (-1000, -5, 72),
       (-850, -5, 78), (-700, -8, 82), (-550, -10, 86), (-400, -12, 90), (-250, -10, 94),
       (-100, -10, 98), (0, -10, 102), (10, -100, 106), (20, -250, 112), (30, -400, 118),
       (40, -550, 124), (50, -700, 130), (60, -850, 136), (70, -950, 142), (80, -800, 150),
       (85, -650, 158), (88, -500, 166), (90, -350, 174), (92, -200, 182), (94, -50, 190),
       (95, 90, 209)]
p38 = [(0, 0, 0), (-100, 5, 8), (-200, 10, 16), (-300, 5, 24), (-450, -20, 32), (-600, -50, 40),
       (-750, -70, 48), (-900, -85, 56), (-1050, -100, 64), (-1200, -115, 72), (-1350, -120, 80),
       (-1450, -120, 88), (-1300, -125, 96), (-1100, -128, 104), (-900, -130, 112),
       (-700, -130, 120), (-500, -130, 128), (-300, -130, 136), (-100, -130, 144),
       (100, -130, 152), (220, -130, 160), (230, -250, 168), (240, -400, 176), (245, -550, 184),
       (250, -700, 192), (255, -850, 200), (260, -1000, 208), (260, -1100, 216),
       (230, -1150, 220), (180, -700, 230), (150, -300, 240), (130, 200, 250), (130, 313, 258),
       (140, 150, 266), (150, -50, 274), (140, -250, 285), (120, -450, 300), (110, -650, 312),
       (120, -850, 324), (140, -1050, 336), (160, -1250, 348), (200, -1500, 360),
       (260, -1772, 372), (320, -1700, 380), (310, -1500, 390), (300, -1300, 400),
       (290, -1050, 410), (280, -800, 418), (270, -550, 426), (260, -300, 434), (250, -100, 441),
       (240, 70, 447)]
p39 = [(0, 0, 0), (-100, -10, 8), (-250, -20, 16), (-400, -30, 24), (-550, -40, 32),
       (-700, -40, 40), (-850, -35, 48), (-1000, -30, 56), (-1150, -30, 64), (-1250, -30, 70),
       (-1100, 0, 78), (-900, 10, 86), (-700, 20, 94), (-500, 20, 102), (-300, 15, 110),
       (-100, 10, 118), (50, 0, 126), (120, -100, 134), (150, -250, 142), (170, -400, 150),
       (180, -550, 158), (190, -700, 166), (200, -850, 174), (210, -950, 182), (260, -800, 210),
       (255, -600, 222), (250, -400, 234), (245, -200, 246), (240, 0, 258), (240, 150, 270),
       (235, 300, 282), (230, 330, 292), (100, 280, 302), (-150, 230, 314), (-400, 200, 326),
       (-650, 170, 338), (-900, 150, 350), (-1150, 130, 362), (-1400, 120, 374),
       (-1700, 120, 386), (-1400, 110, 396), (-1100, 120, 406), (-800, 130, 416),
       (-500, 150, 426), (-200, 170, 436), (-50, 180, 444), (-300, 150, 456), (-600, 120, 466),
       (-900, 100, 476), (-1200, 90, 486), (-1500, 80, 496), (-1800, 70, 506), (-2100, 60, 516),
       (-2252, 55, 526), (-2200, -10, 540), (-2150, -300, 552), (-2100, -600, 565),
       (-2020, -900, 578), (-1980, -1100, 588), (-1950, -1300, 600)]
p40 = [(0, 0, 0), (-60, 0, 6), (-160, -5, 12), (-260, -10, 18), (-360, -15, 24), (-460, -15, 30),
       (-560, -12, 36), (-660, -8, 42), (-760, -3, 48), (-860, 0, 54), (-960, 3, 60),
       (-1060, 5, 66), (-1115, 5, 72), (-950, 5, 78), (-800, 10, 84), (-650, 20, 90),
       (-500, 30, 96), (-350, 40, 102), (-200, 45, 108), (-50, 50, 114), (100, 55, 120),
       (250, 60, 126), (300, 60, 132), (330, -50, 140), (360, -200, 150), (380, -350, 160),
       (400, -500, 170), (420, -650, 180), (440, -800, 190), (450, -950, 200), (460, -1100, 210),
       (420, -1050, 230), (400, -900, 250), (380, -750, 270), (360, -600, 290), (340, -450, 310),
       (320, -300, 330), (300, -150, 350), (280, 0, 370), (270, 150, 392)]
p41 = [(0, 0, 0), (-60, -15, 4), (-150, -35, 8), (-250, -60, 12), (-350, -80, 16),
       (-450, -100, 20), (-550, -115, 24), (-650, -130, 28), (-750, -140, 32), (-850, -150, 36),
       (-950, -160, 40), (-1050, -165, 44), (-1150, -170, 48), (-1250, -175, 52),
       (-1350, -178, 56), (-1465, -180, 60), (-1300, -170, 66), (-1150, -155, 70),
       (-1000, -145, 74), (-850, -130, 78), (-700, -115, 82), (-550, -100, 86), (-400, -85, 90),
       (-250, -75, 94), (-100, -65, 98), (-30, -60, 102), (-20, -150, 108), (-10, -300, 114),
       (0, -450, 120), (10, -600, 126), (20, -750, 132), (30, -900, 138), (40, -1000, 144),
       (20, -850, 150), (10, -700, 156), (0, -550, 162), (-5, -400, 168), (-10, -250, 174),
       (-15, -100, 180), (-20, 50, 184), (-25, 200, 188), (-30, 300, 192)]

trials = [p0, p1, p2, p3, p4, p5, p6, p7, p8, p9, p10, p11, p12, p13, p14, p15, p16, p17,
          p18, p19, p20, p21, p22, p23, p24, p25, p26, p27, p28, p29, p30, p31, p32, p33,
          p34, p35, p36, p37, p38, p39, p40, p41]

fig, axes = plt.subplots(7, 7, figsize=(50, 50))
axes = axes.flatten()

for i, pts in enumerate(trials):
    ax = axes[i]
    df = pd.DataFrame(pts, columns=['x', 'y', 't'])
    norm = Normalize(vmin=0, vmax=tmax[i])

    # path + points coloured by time
    sns.lineplot(data=df, x='x', y='y', sort=False, estimator=None, color='grey',
                 alpha=0.35, linewidth=1.5, ax=ax)
    sns.scatterplot(data=df, x='x', y='y', hue='t', palette='turbo', hue_norm=norm,
                    s=45, edgecolor='none', legend=False, ax=ax, zorder=2)
    ax.scatter(df['x'].iloc[0], df['y'].iloc[0], marker='D', color='red', s=90,
               label='start', zorder=3)
    ax.legend(loc='upper left' if i in (31, 38) else 'upper right')

    fig.colorbar(ScalarMappable(norm=norm, cmap='turbo'), ax=ax, label='Time step')
    ax.set_xlim(xlims[i])
    ax.set_ylim(ylims[i])
    ax.set_aspect('equal', adjustable='box')
    ax.set_title(f'Trial = {i}, Control = {controls[i]}')

# leftover grid cells
for ax in axes[43:]:
    ax.remove()

plt.tight_layout()
plt.savefig('out.png', dpi=100)
